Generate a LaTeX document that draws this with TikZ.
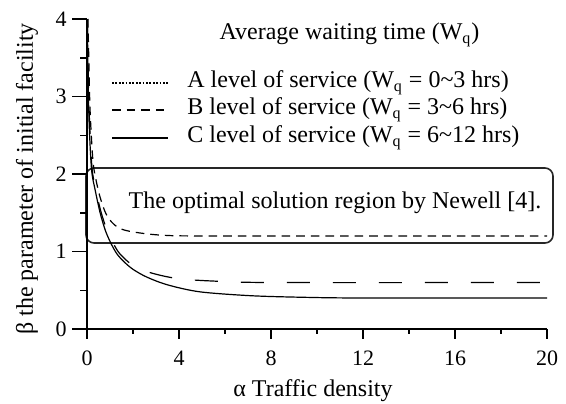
\documentclass[tikz,border=0pt]{standalone}
\usepackage{fontspec}
\setmainfont{Liberation Serif}
\begin{document}
\begin{tikzpicture}[x=0.5pt,y=-0.5pt,
  font=\fontsize{12}{14}\selectfont,
  axis/.style={line width=0.75pt},
  curve/.style={line width=0.6pt},
  shortdash/.style={dash pattern=on 4.3pt off 3pt},
  longdash/.style={dash pattern=on 11.5pt off 11.5pt},
  dotline/.style={dash pattern=on 0.9pt off 0.8pt},
  ticklab/.style={font=\fontsize{11}{13}\selectfont, inner sep=0pt},
  lab/.style={inner sep=0pt, anchor=west}]
\useasboundingbox (0,0) rectangle (566,403);

% region box
\node[draw=black!85, line width=0.8pt, rounded corners=4pt,
      minimum width=233.5pt, minimum height=37.5pt, inner sep=0pt]
      (region) at (319.5,205.5) {};
\node (boxtext) at (335,203) {The optimal solution region by Newell [4].};

% data scope
\begin{scope}[xshift=43.5pt, yshift=-164.5pt, x=11.5pt, y=38.75pt]
  \coordinate (O) at (0,0);
  \coordinate (Xend) at (20,0);
  \coordinate (Yend) at (0,4);
  \draw[axis] (Yend) -- (O) -- (Xend);
  \foreach \v in {0,1,2,3,4} {
    \draw[axis] (0,\v) -- ++(-7.5pt,0);
    \node[ticklab] (yl\v) at ([xshift=-13pt]0,\v) {\v};
  }
  \foreach \v in {0.5,1.5,2.5,3.5}
    \draw[axis] (0,\v) -- ++(-3.75pt,0);
  \foreach \u in {0,4,8,12,16,20} {
    \draw[axis] (\u,0) -- ++(0,-5pt);
    \node[ticklab] (xl\u) at ([yshift=-14.5pt]\u,0) {\u};
  }
  \foreach \u in {2,6,10,14,18}
    \draw[axis] (\u,0) -- ++(0,-2.5pt);

  % short-dashed curve (asymptote 1.2)
  \draw[curve, shortdash] plot[smooth, tension=0.5] coordinates {
    (0.04,4) (0.07,3.6) (0.13,2.85) (0.25,2.2) (0.36,1.97) (0.57,1.70)
    (0.87,1.46) (1.3,1.32) (1.87,1.26) (3.3,1.21) (6,1.2) (20,1.2)};
  % long-dashed curve (asymptote 0.6)
  \draw[curve, longdash] plot[smooth, tension=0.5] coordinates {
    (0.02,4) (0.06,3.2) (0.12,2.6) (0.22,2.07) (0.37,1.81) (0.6,1.52)
    (0.85,1.29) (1.1,1.13) (1.43,0.97) (2.09,0.80) (2.96,0.71) (3.97,0.65)
    (5.4,0.62) (8,0.6) (20,0.6)};
  % solid curve (asymptote 0.4)
  \draw[curve] plot[smooth, tension=0.5] coordinates {
    (0.015,4) (0.05,3.2) (0.1,2.6) (0.2,2.05) (0.35,1.8) (0.57,1.5)
    (0.8,1.27) (1.05,1.1) (1.3,0.97) (1.6,0.87) (2,0.77) (2.6,0.67)
    (3.5,0.57) (4.9,0.48) (7.1,0.43) (9.3,0.41) (12,0.4) (20,0.4)};
\end{scope}

% axis titles
\node[rotate=90] (ylab) at (27,179) {β the parameter of initial facility};
\node (xlab) at (313,391) {α Traffic density};

% legend
\node (legtitle) at (349.5,35) {Average waiting time (W\textsubscript{q})};
\coordinate (a1) at (112,83);  \coordinate (a2) at (168,83);
\coordinate (b1) at (112,110); \coordinate (b2) at (168,110);
\coordinate (c1) at (112,138); \coordinate (c2) at (168,138);
\draw[curve, dotline] (a1) -- (a2);
\draw[curve, shortdash] (b1) -- (b2);
\draw[curve] (c1) -- (c2);
\node[lab] (legA) at (187,83) {A level of service (W\textsubscript{q} = 0\textasciitilde 3 hrs)};
\node[lab] (legB) at (187,110) {B level of service (W\textsubscript{q} = 3\textasciitilde 6 hrs)};
\node[lab] (legC) at (187,138) {C level of service (W\textsubscript{q} = 6\textasciitilde 12 hrs)};
\end{tikzpicture}
\end{document}
